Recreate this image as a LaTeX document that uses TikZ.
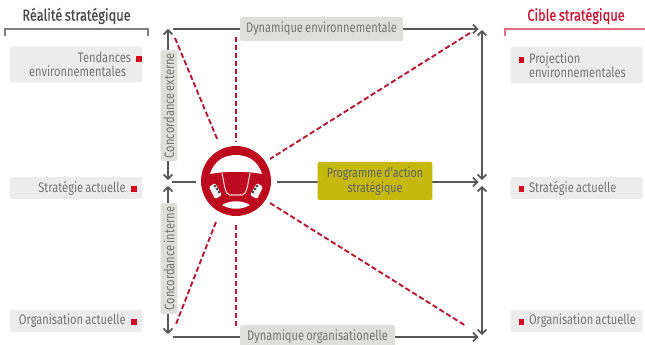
\documentclass[tikz,border=0pt]{standalone}
\usepackage{fontspec}
\setmainfont[FakeStretch=0.8,WordSpace=0.75]{Fira Sans}
\newfontfamily\headfont[FakeStretch=0.8,FakeBold=0.4,WordSpace=0.75]{Fira Sans}
\usetikzlibrary{arrows.meta}
\definecolor{boxg}{HTML}{ECECEC}
\definecolor{labg}{HTML}{DEDEDA}
\definecolor{txtg}{HTML}{767676}
\definecolor{linec}{HTML}{585858}
\definecolor{wheelred}{HTML}{BE0A1E}
\definecolor{dashred}{HTML}{B5152F}
\definecolor{markred}{HTML}{D8001F}
\definecolor{olive}{HTML}{C4B90C}
\definecolor{headred}{HTML}{C8102E}
\tikzset{
  x=0.75pt,y=-0.75pt,
  flow/.style={draw=linec,line width=1.3pt,-{Straight Barb[length=3.2pt,width=6.5pt,line width=1.3pt]}},
  flowtwo/.style={draw=linec,line width=1.3pt,{Straight Barb[length=3.2pt,width=6.5pt,line width=1.3pt]}-{Straight Barb[length=3.2pt,width=6.5pt,line width=1.3pt]}},
  reddash/.style={draw=dashred,line width=1.4pt,dash pattern=on 4pt off 2pt},
  sidebox/.style={fill=boxg,rounded corners=1.5pt,text width=99pt,inner xsep=0pt,inner ysep=0pt,text=txtg,font=\fontsize{10.4}{10.8}\selectfont},
  lablbox/.style={fill=labg,rounded corners=1pt,inner sep=0pt,text=txtg,font=\fontsize{10.4}{11}\selectfont},
  headtxt/.style={inner sep=0pt,font=\headfont\fontsize{12}{14}\selectfont},
}
\newcommand{\rsq}{\textcolor{markred}{\rule[0.3pt]{4.4pt}{4.4pt}}}
\begin{document}
\begin{tikzpicture}
\useasboundingbox (0,0) rectangle (645,345);
% headings
\node[headtxt,text=black!72] (hl) at (76.5,16) {Réalité stratégique};
\node[headtxt,text=headred] (hr) at (576,16) {Cible stratégique};
\draw[draw=black!50,line width=.8pt] (5,36) -- (5,29) -- (148,29) -- (148,36);
\draw[draw=headred!60,line width=.8pt] (505,36) -- (505,29) -- (645,29);
% side boxes
\node[sidebox,minimum height=27pt,align=flush right] (tl) at (76,64.5) {Tendances\hspace{3.8pt}\rsq\hspace*{4pt}\\environnementales\hspace*{12pt}};
\node[sidebox,minimum height=16.5pt,align=flush right] (sl) at (76,188) {Stratégie actuelle\hspace{3.8pt}\rsq\hspace*{4pt}};
\node[sidebox,minimum height=16.5pt,align=flush right] (ol) at (76,321) {Organisation actuelle\hspace{3.8pt}\rsq\hspace*{4pt}};
\node[sidebox,minimum height=27pt,align=flush left] (tr) at (576.5,65) {\hspace*{6pt}\rsq\hspace{3.5pt}Projection\\\hspace*{13.9pt}environnementales};
\node[sidebox,minimum height=16.5pt,align=flush left] (sr) at (576.5,188) {\hspace*{6pt}\rsq\hspace{3.5pt}Stratégie actuelle};
\node[sidebox,minimum height=16.5pt,align=flush left] (or) at (576.5,321) {\hspace*{6pt}\rsq\hspace{3.5pt}Organisation actuelle};
% corners
\coordinate (tlc) at (168,29);
\coordinate (tls) at (173,29);
\coordinate (trh) at (478.5,29);
\coordinate (trc) at (482,30);
\coordinate (mlu) at (168,180);
\coordinate (mld) at (168,186);
\coordinate (mls) at (172,182);
\coordinate (mrh) at (478.5,182);
\coordinate (mru) at (482,180);
\coordinate (mrd) at (482,186);
\coordinate (blc) at (168,334);
\coordinate (bls) at (173,337);
\coordinate (brh) at (478.5,337);
\coordinate (brc) at (482,335);
% wheel anchor
\node[circle,fill=wheelred,minimum size=52.5pt,inner sep=0pt] (wheel) at (236,181) {};
% connectors
\draw[flow] (tls) -- (trh);
\draw[flow] (bls) -- (brh);
\draw[flowtwo] (tlc) -- (mlu);
\draw[flowtwo] (mld) -- (blc);
\draw[flowtwo] (trc) -- (mru);
\draw[flowtwo] (mrd) -- (brc);
\draw[draw=linec,line width=1.3pt] (mls) -- (196,182);
\draw[flow] (277,182) -- (mrh);
% red dashes
\coordinate (d1) at (175,38); \coordinate (d1e) at (218,141);
\coordinate (d2) at (236,37); \coordinate (d2e) at (236,142);
\coordinate (d3) at (470,33); \coordinate (d3e) at (270,159);
\coordinate (d4) at (270,203); \coordinate (d4e) at (466,326);
\coordinate (d5) at (236,225); \coordinate (d5e) at (236,328);
\coordinate (d6) at (216,222); \coordinate (d6e) at (176,324);
\foreach \a/\b in {d1/d1e,d2/d2e,d3/d3e,d4/d4e,d5/d5e,d6/d6e} \draw[reddash] (\a) -- (\b);
% labels on lines
\node[lablbox,minimum width=122pt,minimum height=18pt] (de) at (321.5,29) {Dynamique environnementale};
\node[lablbox,minimum width=116pt,minimum height=18pt] (dorg) at (317.5,337) {Dynamique organisationelle};
\node[lablbox,rotate=90,minimum width=83pt,minimum height=12.5pt] (ce) at (169,105.5) {Concordance externe};
\node[lablbox,rotate=90,minimum width=83pt,minimum height=12.5pt] (ci) at (169,258.5) {Concordance interne};
\node[fill=olive,rounded corners=1pt,inner sep=0pt,minimum width=86pt,minimum height=28.5pt,align=center,text=black!62,font=\fontsize{10}{11}\selectfont] (pa) at (375,181) {Programme d'action\\stratégique};
% wheel details
\begin{scope}[shift={(236,181)}]
\fill[white] (-26,-7) .. controls (-22,-20) and (-12,-26) .. (0,-26) .. controls (12,-26) and (22,-20) .. (26,-7) .. controls (10,-10) and (-10,-10) .. cycle;
\draw[white!80!wheelred,line width=.8pt,rounded corners=1.5pt] (-14,-8) -- (-11,8) -- (-8,14) -- (8,14) -- (11,8) -- (14,-8);
\fill[white,rounded corners=1pt] (-27,6) -- (-21,2) -- (-14,14) -- (-21,18) -- cycle;
\fill[white,rounded corners=1pt] (27,6) -- (21,2) -- (14,14) -- (21,18) -- cycle;
\fill[black!70] (-21,5) circle (1.6) (-19,8) circle (1.6) (-17,11) circle (1.6);
\fill[black!70] (21,5) circle (1.6) (19,8) circle (1.6) (17,11) circle (1.6);
\fill[white] (-14,24) .. controls (-5,19) and (5,19) .. (14,24) .. controls (5,29) and (-5,29) .. cycle;
\end{scope}
\end{tikzpicture}
\end{document}
